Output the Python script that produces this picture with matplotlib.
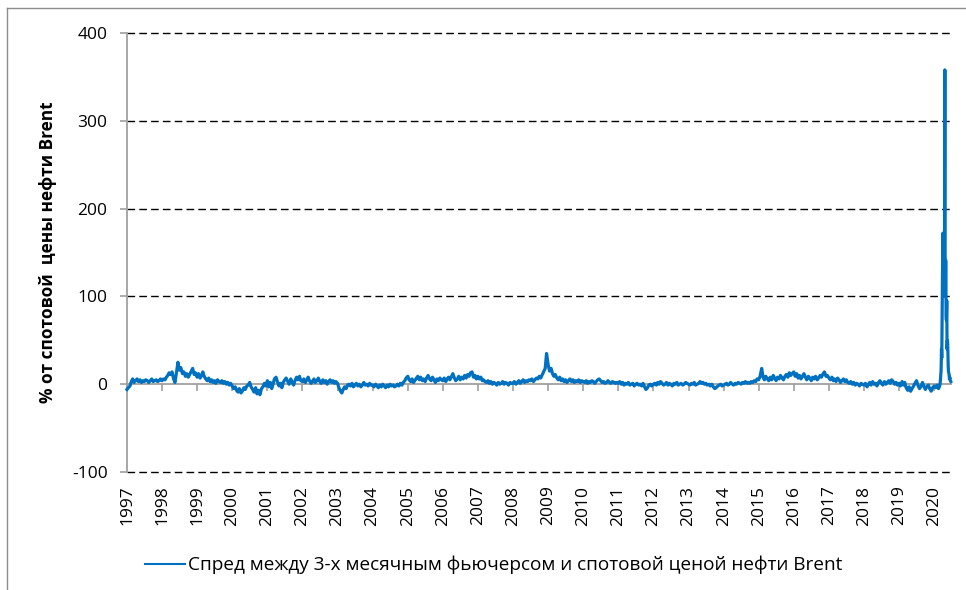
import matplotlib
matplotlib.use("Agg")
import matplotlib.pyplot as plt
from matplotlib.lines import Line2D
import pandas as pd

plt.rcParams['font.family'] = ['Open Sans', 'DejaVu Sans']
plt.rcParams['lines.scale_dashes'] = False

# ---- data: spread (% of spot Brent), semi-monthly readings 1997-2019 ----
spread_1997 = [-6, -4, -2, 3, 6, 2, 4, 6, 3, 5, 2, 4, 3, 5, 4, 2, 4, 6, 3, 4, 5, 3, 4, 6]
spread_1998 = [4, 6, 5, 8, 10, 13, 11, 14, 6, 2, 14, 25, 16, 19, 12, 14, 9, 12, 8, 11, 15, 18, 11, 13]
spread_1999 = [8, 12, 7, 10, 14, 9, 6, 4, 7, 3, 5, 2, 4, 1, 5, 3, 2, 4, 1, 3, 0, 2, -1, 1]
spread_2000 = [-2, -5, -3, -7, -9, -5, -10, -8, -4, -6, -2, -1, 2, -3, -6, -9, -4, -11, -7, -12, -5, -3, 1, -2]
spread_2001 = [4, -3, 2, -5, 0, 6, 8, 3, -2, 1, -4, 2, 5, 7, 3, 0, 6, 2, -1, 4, 8, 5, 9, 4]
spread_2002 = [3, 6, 2, 5, 8, 4, 1, 3, 6, 2, 4, 7, 3, 1, 5, 2, 4, 0, 3, 5, 2, 4, 1, 3]
spread_2003 = [1, -4, -8, -10, -6, -3, -5, -1, 0, -2, 1, -3, -1, 1, -2, 0, -3, -1, 2, -1, 0, -2, 1, -1]
spread_2004 = [-1, -3, 0, -2, -4, -1, -3, 0, -2, -4, -1, -3, 0, -2, -1, -3, -2, 0, -2, 1, -1, 2, 4, 7]
spread_2005 = [9, 5, 3, 6, 2, 4, 7, 9, 5, 8, 4, 6, 3, 7, 10, 6, 4, 8, 5, 2, 6, 4, 7, 5]
spread_2006 = [4, 7, 3, 6, 8, 5, 9, 12, 7, 4, 6, 9, 5, 8, 6, 10, 7, 11, 9, 13, 14, 8, 10, 6]
spread_2007 = [9, 6, 8, 4, 5, 3, 2, 4, 1, 3, 0, 2, 1, -1, 2, 0, 1, 3, 0, 2, 1, -1, 2, 1]
spread_2008 = [1, 3, 0, 2, 4, 1, 3, 5, 2, 4, 3, 5, 4, 6, 3, 5, 7, 6, 9, 7, 11, 14, 18, 35]
spread_2009 = [22, 15, 18, 12, 9, 11, 7, 5, 8, 4, 6, 3, 5, 2, 4, 6, 3, 5, 2, 4, 3, 5, 2, 4]
spread_2010 = [3, 2, 4, 1, 3, 2, 4, 3, 1, 3, 5, 6, 4, 2, 3, 1, 2, 4, 2, 1, 3, 2, 1, 2]
spread_2011 = [1, 3, 0, 2, -1, 1, 0, 2, -1, 0, 1, -2, 0, 1, -1, 0, -2, 1, -3, -6, -4, -1, 0, -2]
spread_2012 = [0, 1, -1, 2, 0, 3, 1, -1, 0, 2, -1, 1, 0, -2, 1, 0, 2, -1, 0, 1, -1, 0, 2, 1]
spread_2013 = [0, -1, 1, 0, 2, -1, 0, 1, 3, 1, 2, 0, 1, -1, 0, -2, 0, -3, -5, -4, -2, -1, 0, -2]
spread_2014 = [-1, 0, 1, -1, 0, 2, 0, -1, 1, 0, 2, 1, 0, 2, 1, 3, 1, 2, 1, 3, 2, 4, 3, 6]
spread_2015 = [5, 9, 18, 8, 5, 9, 6, 4, 8, 5, 10, 7, 4, 8, 6, 10, 7, 5, 9, 11, 8, 13, 10, 12]
spread_2016 = [14, 9, 12, 7, 10, 6, 9, 12, 8, 5, 9, 7, 4, 8, 6, 9, 5, 7, 10, 8, 12, 14, 9, 10]
spread_2017 = [7, 5, 8, 4, 6, 3, 7, 5, 2, 4, 6, 3, 5, 2, 1, 3, 0, 2, -1, 1, 0, -2, 1, 0]
spread_2018 = [-1, 1, -3, 0, 2, -1, 3, 0, 1, -2, 2, 4, 1, -1, 3, 0, 2, 4, 1, 5, 3, 0, 2, -1]
spread_2019 = [1, -2, 3, -1, 2, -4, -7, -3, -8, -5, -2, 1, 4, -1, -5, -3, 2, -2, -6, -3, -1, -5, -8, -4]

# 2020: finer readings around the April 2020 spike
dates_2020 = ['2020-01-02', '2020-01-15', '2020-02-01', '2020-02-15', '2020-02-24', '2020-03-02',
              '2020-03-06', '2020-03-10', '2020-03-13', '2020-03-17', '2020-03-20', '2020-03-24',
              '2020-03-27', '2020-03-31', '2020-04-03', '2020-04-07', '2020-04-09', '2020-04-14',
              '2020-04-17', '2020-04-21', '2020-04-23', '2020-04-27', '2020-04-30', '2020-05-04',
              '2020-05-07', '2020-05-11', '2020-05-14', '2020-05-18', '2020-05-21', '2020-05-26',
              '2020-05-29', '2020-06-03', '2020-06-08', '2020-06-12', '2020-06-17', '2020-06-22']
spread_2020 = [-2, -4, -1, -5, -3, 0, 5, 12, 16, 40, 30, 75, 120, 172, 100, 150, 125, 165,
               140, 358, 150, 100, 141, 80, 73, 95, 40, 50, 45, 20, 14, 12, 6, 8, 4, 3]

year_labels = [str(y) for y in range(1997, 2021)]
y_ticks = [-100, 0, 100, 200, 300, 400]
series_label = 'Спред между 3-х месячным фьючерсом и спотовой ценой нефти Brent'
y_label = '% от спотовой  цены нефти Brent'

# ---- assemble ----
yearly = [spread_1997, spread_1998, spread_1999, spread_2000, spread_2001, spread_2002,
          spread_2003, spread_2004, spread_2005, spread_2006, spread_2007, spread_2008,
          spread_2009, spread_2010, spread_2011, spread_2012, spread_2013, spread_2014,
          spread_2015, spread_2016, spread_2017, spread_2018, spread_2019]
semi_dates = pd.date_range('1997-01-01', '2019-12-31', freq='SMS')
dates = list(semi_dates) + list(pd.to_datetime(dates_2020))
values = [v for yr in yearly for v in yr] + spread_2020

fig = plt.figure(figsize=(9.66, 5.90), dpi=100)
ax = fig.add_axes([127/966, 1-472/590, (951-127)/966, (472-33)/590])

blue = '#0070C0'
ax.plot(dates, values, color=blue, lw=2.3, solid_joinstyle='round', zorder=3, clip_on=False)

ax.set_ylim(-100, 400)
ax.set_xlim(pd.Timestamp('1997-01-01'), pd.Timestamp('2020-06-24'))

ax.set_yticks(y_ticks)
ax.set_yticklabels([str(t) for t in y_ticks])
xt = [pd.Timestamp(f'{y}-01-01') for y in range(1997, 2021)]
ax.set_xticks(xt)
ax.set_xticklabels(year_labels)

# grid
ax.yaxis.grid(True, color='black', lw=1.0, dashes=(5.5, 3.0))
for t, gl in zip(ax.get_yticks(), ax.get_ygridlines()):
    gl.set_clip_on(False)
    if t == 0:
        gl.set_visible(False)
ax.set_axisbelow(True)

for s in ['top', 'right']:
    ax.spines[s].set_visible(False)
ax.spines['left'].set_color('#A0A0A0')
ax.spines['left'].set_linewidth(1.3)
ax.spines['bottom'].set_position(('data', 0))
ax.spines['bottom'].set_color('#A0A0A0')
ax.spines['bottom'].set_linewidth(1.3)
ax.spines['bottom'].set_zorder(2)

ax.tick_params(axis='y', direction='out', length=5, width=1.2, color='#A0A0A0',
               labelsize=12.5, pad=9, labelcolor='black')
ax.tick_params(axis='x', direction='out', length=5, width=1.2, color='#A0A0A0',
               labelsize=12.5, pad=68, labelcolor='black', labelrotation=90)

ax.set_ylabel(y_label, fontsize=12.4, fontweight='bold')
ax.yaxis.set_label_coords(-0.085, 0.5)

handle = Line2D([], [], color=blue, lw=1.5)
fig.legend([handle], [series_label], loc='center', bbox_to_anchor=(0.511, 1-565/590),
           frameon=False, fontsize=13.7, handlelength=2.1, handletextpad=0.15)

# outer chart border (top & left visible)
fig.add_artist(Line2D([7/966, 1.0], [1-8/590, 1-8/590], color='#8C8C8C', lw=1.0,
                      transform=fig.transFigure))
fig.add_artist(Line2D([7/966, 7/966], [1-8/590, 0.0], color='#8C8C8C', lw=1.0,
                      transform=fig.transFigure))

fig.savefig('out.png', dpi=100)
